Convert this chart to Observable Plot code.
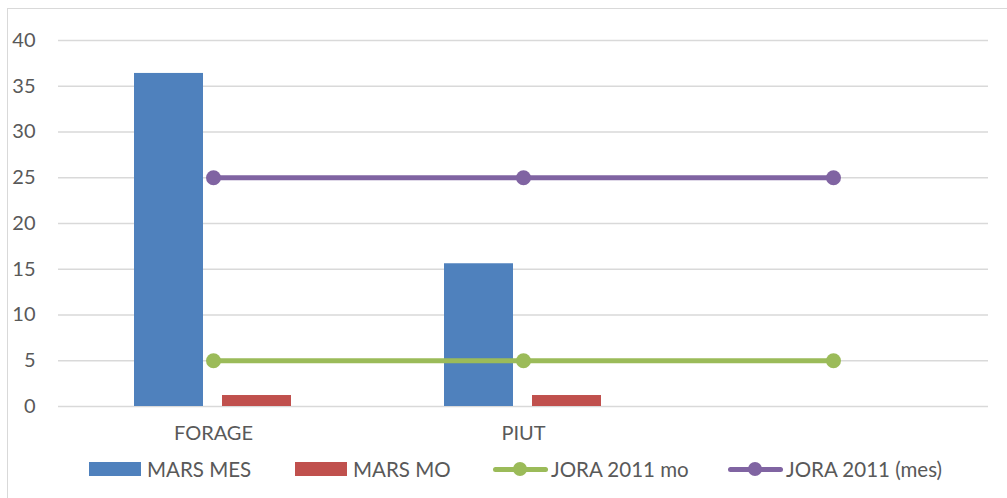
<!DOCTYPE html>
<html>
<head>
<meta charset="utf-8">
<script src="https://cdn.jsdelivr.net/npm/d3@7"></script>
<script src="https://cdn.jsdelivr.net/npm/@observablehq/plot@0.6"></script>
<style>
  html, body { margin: 0; padding: 0; background: #fff; }
  body { width: 1007px; height: 498px; position: relative; overflow: hidden; font-family: Lato, "Open Sans", sans-serif; }
  #frame { position: absolute; left: 7px; top: 8px; width: 1010px; height: 510px; border: 1px solid #d9d9d9; box-sizing: border-box; }
  #chart { position: absolute; left: 0; top: 0; }
  #legend { position: absolute; left: 0; top: 456px; width: 1007px; height: 26px; font-size: 20.5px; color: #595959; }
  .item { position: absolute; top: 0; display: flex; align-items: center; height: 26px; white-space: nowrap; }
  .sw { width: 52px; height: 14px; margin-right: 6px; }
  .ln { position: relative; width: 55px; height: 14px; margin-right: 3px; }
  .ln .bar { position: absolute; left: 0; right: 0; top: 5px; height: 5px; border-radius: 3px; }
  .ln .dot { position: absolute; left: 20px; top: 0; width: 14px; height: 14px; border-radius: 50%; }
</style>
</head>
<body>
<div id="frame"></div>
<div id="chart"></div>
<div id="legend"></div>
<script>
// ---- data ----
const categories = ["FORAGE", "PIUT", " "];
const marsMES = [36.4, 15.6, null];
const marsMO = [1.2, 1.2, null];
const jora2011mo = [5, 5, 5];
const jora2011mes = [25, 25, 25];
const yTicks = [0, 5, 10, 15, 20, 25, 30, 35, 40];
const seriesNames = ["MARS MES", "MARS MO", "JORA 2011 mo", "JORA 2011 (mes)"];
const colors = ["#4F81BD", "#C0504D", "#9BBB59", "#8064A2"];

const mesRows = categories.map((c, i) => ({cat: c, v: marsMES[i]})).filter(d => d.v != null);
const moRows = categories.map((c, i) => ({cat: c, v: marsMO[i]})).filter(d => d.v != null);
const moLine = categories.map((c, i) => ({cat: c, v: jora2011mo[i]}));
const mesLine = categories.map((c, i) => ({cat: c, v: jora2011mes[i]}));

const chart = Plot.plot({
  width: 1007,
  height: 450,
  marginLeft: 58,
  marginRight: 19,
  marginTop: 40,
  marginBottom: 44,
  style: {fontFamily: "Lato, 'Open Sans', sans-serif", fontSize: "20px", color: "#595959", background: "transparent"},
  x: {type: "band", domain: categories, padding: 0, label: null},
  y: {domain: [0, 40], label: null},
  marks: [
    Plot.gridY(yTicks, {stroke: "#d9d9d9", strokeOpacity: 1, strokeWidth: 1.5}),
    Plot.axisY(yTicks, {tickSize: 0, tickPadding: 23, fontSize: 20, fill: "#595959", label: null}),
    Plot.axisX({tickSize: 0, tickPadding: 19, fontSize: 20, fill: "#595959", label: null}),
    Plot.barY(mesRows, {x: "cat", y: "v", fill: colors[0], insetLeft: 76, insetRight: 165}),
    Plot.barY(moRows, {x: "cat", y: "v", fill: colors[1], insetLeft: 164, insetRight: 77}),
    Plot.lineY(moLine, {x: "cat", y: "v", stroke: colors[2], strokeWidth: 5}),
    Plot.dot(moLine, {x: "cat", y: "v", fill: colors[2], r: 7.5}),
    Plot.lineY(mesLine, {x: "cat", y: "v", stroke: colors[3], strokeWidth: 5}),
    Plot.dot(mesLine, {x: "cat", y: "v", fill: colors[3], r: 7.5})
  ]
});
document.getElementById("chart").appendChild(chart);

// ---- legend ----
const legend = document.getElementById("legend");
const lefts = [89, 295, 493, 728];
seriesNames.forEach((name, i) => {
  const item = document.createElement("div");
  item.className = "item";
  item.style.left = lefts[i] + "px";
  if (i < 2) {
    item.innerHTML = `<span class="sw" style="background:${colors[i]}"></span><span>${name}</span>`;
  } else {
    item.innerHTML = `<span class="ln"><span class="bar" style="background:${colors[i]}"></span><span class="dot" style="background:${colors[i]}"></span></span><span>${name}</span>`;
  }
  legend.appendChild(item);
});
</script>
</body>
</html>
